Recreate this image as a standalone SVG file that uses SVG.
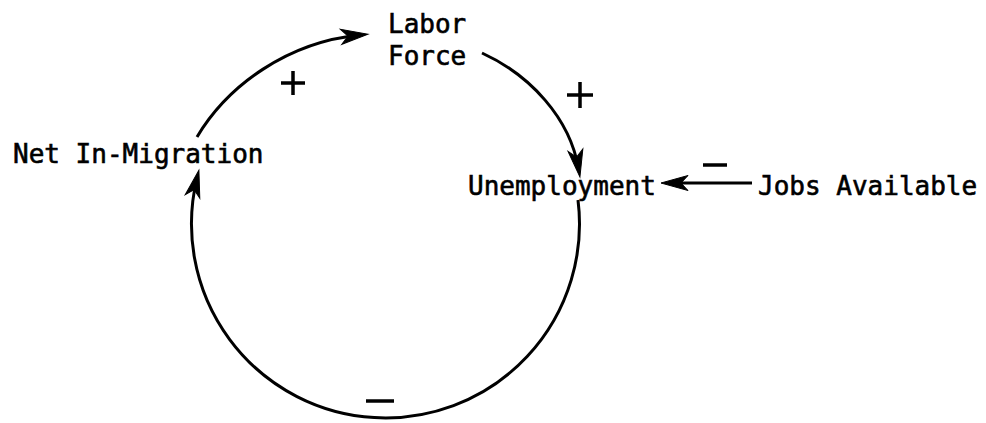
<svg xmlns="http://www.w3.org/2000/svg" width="986" height="423" viewBox="0 0 986 423">
<style>
.lbl{font-family:"DejaVu Sans Mono","Liberation Mono",monospace;font-size:26px;fill:#000;stroke:#000;stroke-width:0.6}
.con{fill:none;stroke:#000;stroke-width:3;marker-end:url(#ah)}
.sign{stroke:#000;stroke-width:3.5;fill:none}
</style>
<defs>
<marker id="ah" markerUnits="userSpaceOnUse" markerWidth="32" markerHeight="18" viewBox="-30 -9 32 18" refX="-8" refY="0" orient="auto">
<path d="M0,0 L-27,-7.5 L-20,0 L-27,7.5 Z" fill="#000" stroke="#000" stroke-width="1"/>
</marker>
</defs>
<rect width="986" height="423" fill="#fff"/>
<g id="labor-force"><text class="lbl" x="388" y="33">Labor</text><text class="lbl" x="388" y="65">Force</text></g>
<g id="net-in-migration"><text class="lbl" x="13" y="163">Net In-Migration</text></g>
<g id="unemployment"><text class="lbl" x="468" y="195">Unemployment</text></g>
<g id="jobs-available"><text class="lbl" x="758" y="195">Jobs Available</text></g>
<g id="connectors">
<path class="con" d="M197,137 C228,85 288,42 360,35"/>
<path class="con" d="M482,53 C530,75 570,118 578.6,169"/>
<path class="con" d="M578,200 A194,194 0 1 1 197,178"/>
<path class="con" d="M752,183 L669,183"/>
</g>
<g id="signs">
<path class="sign" d="M281,83 H305 M293,71 V95"/>
<path class="sign" d="M567,95 H593 M580,82 V108"/>
<path class="sign" d="M703,165 H727"/>
<path class="sign" d="M366,401 H394"/>
</g>
</svg>
